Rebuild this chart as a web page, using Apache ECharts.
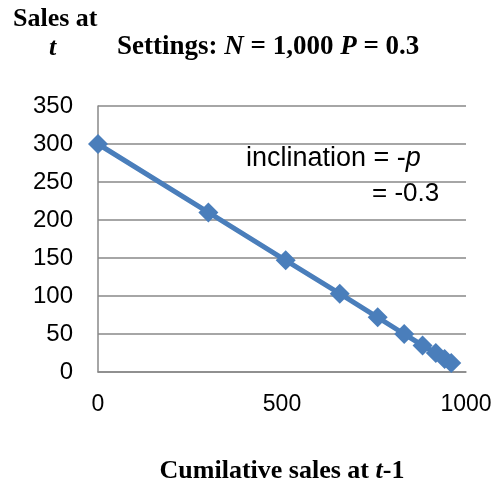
<!DOCTYPE html>
<html>
<head>
<meta charset="utf-8">
<script src="https://cdn.jsdelivr.net/npm/echarts@6/dist/echarts.min.js"></script>
<style>
    html, body { margin: 0; padding: 0; background: #fff; }
    #main { width: 498px; height: 489px; }
</style>
</head>
<body>
<div id="main"></div>
<script>
// cumulative sales at t-1 and sales at t  (N = 1000, p = 0.3)
var cumulative = [0, 300, 510, 657, 760, 832, 882, 918, 942, 960];
var sales = [300, 210, 147, 103, 72, 50, 35, 25, 17, 12];
var xTicks = [0, 500, 1000];
var yTicks = [0, 50, 100, 150, 200, 250, 300, 350];

var chartDom = document.getElementById('main');
var myChart = echarts.init(chartDom);

var serif = '"Liberation Serif", "Times New Roman", serif';
var sans = '"Liberation Sans", Arial, sans-serif';
var gray = '#898989';

var points = cumulative.map(function (c, i) {
    return [c, sales[i]];
});

var option = {
    animation: false,
    title: [
        {
            text: 'Sales at',
            left: 13,
            top: 6,
            padding: 0,
            textStyle: { fontFamily: serif, fontWeight: 'bold', fontSize: 26, color: '#000' }
        },
        {
            text: 't',
            left: 49,
            top: 35,
            padding: 0,
            textStyle: { fontFamily: serif, fontWeight: 'bold', fontStyle: 'italic', fontSize: 26, color: '#000' }
        },
        {
            text: '{b|Settings: }{i|N}{b| = 1,000 }{i|P}{b| = 0.3}',
            left: 117,
            top: 34,
            padding: 0,
            textStyle: {
                rich: {
                    b: { fontFamily: serif, fontWeight: 'bold', fontSize: 27, color: '#000' },
                    i: { fontFamily: serif, fontWeight: 'bold', fontStyle: 'italic', fontSize: 27, color: '#000' }
                }
            }
        }
    ],
    grid: {
        left: 98,
        right: 32,
        top: 106,
        bottom: 116
    },
    xAxis: {
        type: 'value',
        min: xTicks[0],
        max: xTicks[xTicks.length - 1],
        interval: xTicks[1] - xTicks[0],
        name: '{b|Cumilative sales at }{i|t}{b|-1}',
        nameLocation: 'middle',
        nameGap: 86,
        nameTextStyle: {
            rich: {
                b: { fontFamily: serif, fontWeight: 'bold', fontSize: 26, color: '#000' },
                i: { fontFamily: serif, fontWeight: 'bold', fontStyle: 'italic', fontSize: 26, color: '#000' }
            }
        },
        axisLine: { show: true, lineStyle: { color: gray, width: 1.5 } },
        axisTick: { show: false },
        splitLine: { show: false },
        axisLabel: {
            margin: 21,
            fontFamily: sans,
            fontSize: 23,
            color: '#000',
            formatter: function (v) { return String(v); }
        }
    },
    yAxis: {
        type: 'value',
        min: yTicks[0],
        max: yTicks[yTicks.length - 1],
        interval: yTicks[1] - yTicks[0],
        axisLine: { show: true, lineStyle: { color: gray, width: 1.5 } },
        axisTick: { show: false },
        splitLine: { show: true, lineStyle: { color: gray, width: 1.5 } },
        axisLabel: { margin: 25, fontFamily: sans, fontSize: 24, color: '#000' }
    },
    graphic: [
        {
            type: 'text',
            left: 246,
            top: 145,
            style: {
                text: '{n|inclination = -}{i|p}',
                rich: {
                    n: { fontFamily: sans, fontSize: 27, fill: '#000' },
                    i: { fontFamily: sans, fontStyle: 'italic', fontSize: 27, fill: '#000' }
                }
            }
        },
        {
            type: 'text',
            left: 372,
            top: 181,
            style: {
                text: '= -0.3',
                fontFamily: sans,
                fontSize: 26,
                fill: '#000'
            }
        }
    ],
    series: [
        {
            name: 'Sales',
            type: 'line',
            data: points,
            symbol: 'diamond',
            symbolSize: 20,
            lineStyle: { color: '#4A7EBB', width: 5 },
            itemStyle: { color: '#4A7EBB' }
        }
    ]
};

myChart.setOption(option);
</script>
</body>
</html>
